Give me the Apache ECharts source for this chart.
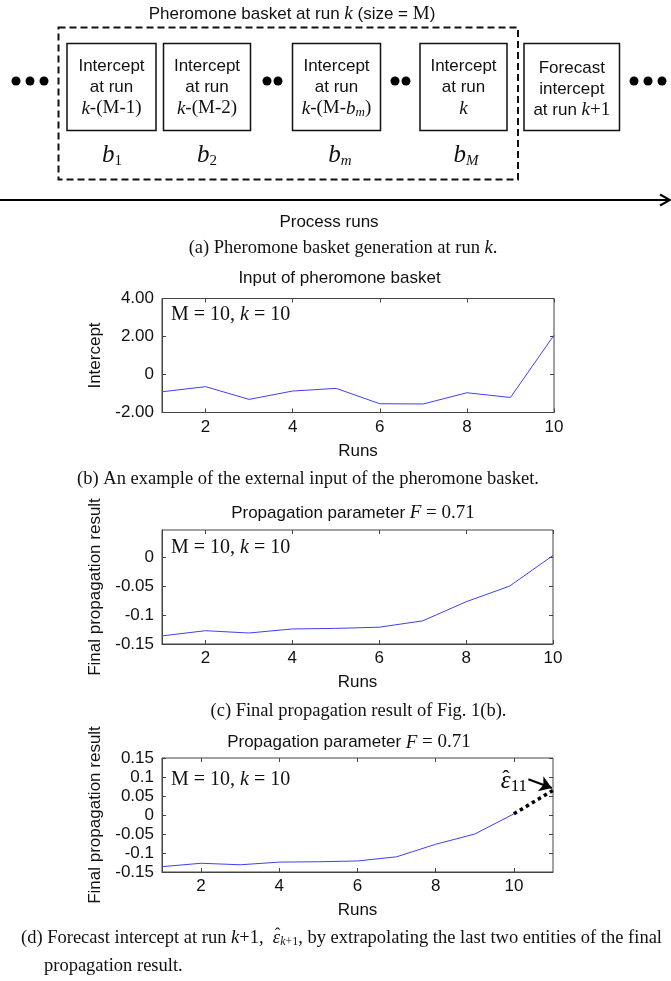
<!DOCTYPE html>
<html>
<head>
<meta charset="utf-8">
<script src="https://cdn.jsdelivr.net/npm/echarts@6/dist/echarts.min.js"></script>
<style>
  html, body { margin: 0; padding: 0; background: #fff; }
  #chart { width: 671px; height: 981px; }
</style>
</head>
<body>
<div id="chart"></div>
<script>
// data
const runs = [1, 2, 3, 4, 5, 6, 7, 8, 9, 10];
const interceptInput = [-0.91, -0.64, -1.31, -0.87, -0.73, -1.54, -1.55, -0.96, -1.21, 2.07];
const finalPropagation = [-0.136, -0.127, -0.131, -0.124, -0.123, -0.121, -0.110, -0.077, -0.050, 0.003];
const forecastRuns = [10, 11];
const forecastValues = [0.003, 0.065];

// ticks
const runTicks = [2, 4, 6, 8, 10];
const interceptTicks = [-2, 0, 2, 4];
const interceptLabels = ['-2.00', '0', '2.00', '4.00'];
const propTicksC = [-0.15, -0.1, -0.05, 0];
const propLabelsC = ['-0.15', '-0.1', '-0.05', '0'];
const propTicksD = [-0.15, -0.1, -0.05, 0, 0.05, 0.1, 0.15];
const propLabelsD = ['-0.15', '-0.1', '-0.05', '0', '0.05', '0.1', '0.15'];

const SANS = 'Liberation Sans, Arial, sans-serif';
const SERIF = 'Liberation Serif, Times New Roman, serif';
const BLUE = '#4040f0';
const AXIS = '#444';

const chart = echarts.init(document.getElementById('chart'), null, { renderer: 'canvas' });

const grids = [
  { left: 162, top: 298.5, width: 392, height: 114 },
  { left: 162, top: 530, width: 391, height: 114 },
  { left: 162, top: 758, width: 391, height: 114 }
].map(g => ({ ...g, show: true, borderColor: AXIS, borderWidth: 1 }));

function pickLabel(ticks, labels) {
  return v => {
    let best = 0;
    ticks.forEach((t, i) => { if (Math.abs(t - v) < Math.abs(ticks[best] - v)) best = i; });
    return labels[best];
  };
}

const xAxes = [];
const yAxes = [];
function addAxes(gi, xMax, yMin, yMax, yTicks, yLabels, yName) {
  const tick = { inside: true, length: 4, lineStyle: { color: AXIS } };
  xAxes.push({
    gridIndex: gi, type: 'value', min: 1, max: xMax,
    name: 'Runs', nameLocation: 'middle', nameGap: 30,
    nameTextStyle: { fontFamily: SANS, fontSize: 17, color: '#111' },
    axisLine: { show: true, onZero: false, lineStyle: { color: AXIS } },
    axisTick: { ...tick, customValues: runTicks },
    axisLabel: { customValues: runTicks, margin: 6, fontFamily: SANS, fontSize: 17, color: '#111' },
    splitLine: { show: false }
  });
  xAxes.push({
    gridIndex: gi, type: 'value', min: 1, max: xMax, position: 'top',
    axisLine: { show: false, onZero: false },
    axisTick: { ...tick, customValues: runTicks },
    axisLabel: { show: false }, splitLine: { show: false }
  });
  yAxes.push({
    gridIndex: gi, type: 'value', min: yMin, max: yMax,
    name: yName, nameLocation: 'middle', nameGap: 58,
    nameTextStyle: { fontFamily: SANS, fontSize: 17, color: '#111' },
    axisLine: { show: true, onZero: false, lineStyle: { color: AXIS } },
    axisTick: { ...tick, customValues: yTicks },
    axisLabel: { customValues: yTicks, margin: 8, fontFamily: SANS, fontSize: 17, color: '#111',
      formatter: pickLabel(yTicks, yLabels) },
    splitLine: { show: false }
  });
  yAxes.push({
    gridIndex: gi, type: 'value', min: yMin, max: yMax, position: 'right',
    axisLine: { show: false, onZero: false },
    axisTick: { ...tick, customValues: yTicks },
    axisLabel: { show: false }, splitLine: { show: false }
  });
}
addAxes(0, 10, -2, 4, interceptTicks, interceptLabels, 'Intercept');
addAxes(1, 10, -0.15, 0.047, propTicksC, propLabelsC, 'Final propagation result');
addAxes(2, 11, -0.15, 0.15, propTicksD, propLabelsD, 'Final propagation result');

const pair = (xs, ys) => xs.map((x, i) => [x, ys[i]]);

const series = [
  { type: 'line', xAxisIndex: 0, yAxisIndex: 0, data: pair(runs, interceptInput),
    showSymbol: false, lineStyle: { color: BLUE, width: 1 }, silent: true },
  { type: 'line', xAxisIndex: 2, yAxisIndex: 2, data: pair(runs, finalPropagation),
    showSymbol: false, lineStyle: { color: BLUE, width: 1 }, silent: true },
  { type: 'line', xAxisIndex: 4, yAxisIndex: 4, data: pair(runs, finalPropagation),
    showSymbol: false, lineStyle: { color: BLUE, width: 1 }, silent: true },
  { type: 'line', xAxisIndex: 4, yAxisIndex: 4, data: pair(forecastRuns, forecastValues),
    showSymbol: false, silent: true,
    lineStyle: { color: '#000', width: 3.5, type: [3.5, 3.5] },
    markLine: {
      silent: true, symbol: ['none', 'arrow'], symbolSize: 12,
      lineStyle: { color: '#000', width: 2.2, type: 'solid' },
      label: { show: false },
      data: [[{ coord: [10.37, 0.094] }, { coord: [10.97, 0.071] }]]
    },
    markPoint: {
      silent: true, symbol: 'circle', symbolSize: 0,
      label: {
        show: true, position: 'inside',
        rich: {
          e: { fontFamily: SERIF, fontStyle: 'italic', fontSize: 25, color: '#000' },
          s: { fontFamily: SERIF, fontSize: 17, color: '#000', padding: [10, 0, 0, 0] },
          h: { fontFamily: SERIF, fontSize: 22, color: '#000' }
        }
      },
      data: [
        { coord: [10.0, 0.089], label: { formatter: '{e|ε}{s|11}' } },
        { coord: [10.0, 0.089], label: { formatter: '{h|ˆ}', offset: [-8, -2] } }
      ]
    }
  }
];

// text helper for graphic elements
function T(x, y, text, rich, opts) {
  return {
    type: 'text', silent: true,
    style: Object.assign({
      x: x, y: y, text: text, rich: rich,
      align: 'center', verticalAlign: 'middle',
      textAlign: 'center', textVerticalAlign: 'middle',
      fill: '#111', font: '17px ' + SANS
    }, opts || {})
  };
}
const R = {
  s: { fontFamily: SANS, fontSize: 17, color: '#111' },
  t: { fontFamily: SERIF, fontSize: 19, color: '#111' },
  ti: { fontFamily: SERIF, fontSize: 19, fontStyle: 'italic', color: '#111' },
  c: { fontFamily: SERIF, fontSize: 18.5, color: '#111' },
  ci: { fontFamily: SERIF, fontSize: 18.5, fontStyle: 'italic', color: '#111' },
  cs: { fontFamily: SERIF, fontSize: 12, fontStyle: 'italic', color: '#111', padding: [8, 0, 0, 0] },
  cs2: { fontFamily: SERIF, fontSize: 12, color: '#111', padding: [8, 0, 0, 0] },
  m: { fontFamily: SERIF, fontSize: 20, color: '#111' },
  mi: { fontFamily: SERIF, fontSize: 20, fontStyle: 'italic', color: '#111' },
  b: { fontFamily: SERIF, fontSize: 25, fontStyle: 'italic', color: '#111' },
  bs: { fontFamily: SERIF, fontSize: 15, color: '#111', padding: [12, 0, 0, 0] },
  bsi: { fontFamily: SERIF, fontSize: 15, fontStyle: 'italic', color: '#111', padding: [12, 0, 0, 0] },
  sub: { fontFamily: SERIF, fontSize: 13, fontStyle: 'italic', color: '#111', padding: [9, 0, 0, 0] },
  hat: { fontFamily: SERIF, fontSize: 17, color: '#111' }
};

// schematic (a)
const boxes = [
  { x: 67, w: 89, third: '{ti|k}{t|-(M-1)}' },
  { x: 163.5, w: 87, third: '{ti|k}{t|-(M-2)}' },
  { x: 292.5, w: 88, third: '{ti|k}{t|-(M-}{ti|b}{sub|m}{t|)}' },
  { x: 420, w: 87, third: '{ti|k}' }
];
const boxTop = 43.5, boxH = 87;
const elems = [];
elems.push({ type: 'rect', silent: true, shape: { x: 58.5, y: 27.5, width: 459.5, height: 152 },
  style: { fill: 'none', stroke: '#111', lineWidth: 2, lineDash: [7, 4] } });
boxes.forEach(b => {
  elems.push({ type: 'rect', silent: true, shape: { x: b.x, y: boxTop, width: b.w, height: boxH },
    style: { fill: '#fff', stroke: '#111', lineWidth: 1.5 } });
  const cx = b.x + b.w / 2;
  elems.push(T(cx, 66.5, '{s|Intercept}', R));
  elems.push(T(cx, 87.5, '{s|at run}', R));
  elems.push(T(cx, 108.5, b.third, R));
});
elems.push({ type: 'rect', silent: true, shape: { x: 524, y: boxTop, width: 95.5, height: boxH },
  style: { fill: '#fff', stroke: '#111', lineWidth: 1.5 } });
elems.push(T(571.8, 68.5, '{s|Forecast}', R));
elems.push(T(571.8, 89.5, '{s|intercept}', R));
elems.push(T(571.8, 110, '{s|at run }{ti|k}{t|+1}', R));
// dots
[16, 30, 44, 267, 278, 395, 406, 634, 648, 662].forEach(x => {
  elems.push({ type: 'circle', silent: true, shape: { cx: x, cy: 81, r: 4.5 }, style: { fill: '#000' } });
});
// b labels
elems.push(T(112, 155, '{b|b}{bs|1}', R));
elems.push(T(207, 155, '{b|b}{bs|2}', R));
elems.push(T(340, 155, '{b|b}{bsi|m}', R));
elems.push(T(466, 155, '{b|b}{bsi|M}', R));
elems.push(T(292, 14, '{s|Pheromone basket at run }{ti|k}{s| (size = }{t|M}{s|)}', R));
// process arrow
elems.push({ type: 'line', silent: true, shape: { x1: 0, y1: 200, x2: 669, y2: 200 },
  style: { stroke: '#000', lineWidth: 2 } });
elems.push({ type: 'polyline', silent: true, shape: { points: [[660, 194.5], [670, 200], [660, 205.5]] },
  style: { stroke: '#000', lineWidth: 2, fill: 'none' } });
elems.push(T(329, 222, '{s|Process runs}', R));

// captions and panel titles
elems.push(T(343, 248, '{c|(a) Pheromone basket generation at run }{ci|k}{c|.}', R));
elems.push(T(339.5, 278.5, '{s|Input of pheromone basket}', R));
elems.push(T(308, 479, '{c|(b) An example of the external input of the pheromone basket.}', R));
elems.push(T(353, 513, '{s|Propagation parameter }{ti|F}{t| = 0.71}', R));
elems.push(T(358.5, 711.5, '{c|(c) Final propagation result of Fig. 1(b).}', R));
elems.push(T(349, 742.5, '{s|Propagation parameter }{ti|F}{t| = 0.71}', R));

// caption (d): measure where the epsilon lands so its hat can sit above it
const capX = 21, capY = 938;
const ctx = document.createElement('canvas').getContext('2d');
function w(str, style, size) {
  ctx.font = style + ' ' + size + 'px ' + SERIF;
  return ctx.measureText(str).width;
}
const epsX = capX + w('(d) Forecast intercept at run ', '', 18.5) + w('k', 'italic', 18.5) +
  w('+1,  ', '', 18.5) + w('ε', 'italic', 18.5) / 2 + 1;
elems.push(T(capX, capY, '{c|(d) Forecast intercept at run }{ci|k}{c|+1,  }{ci|ε}{cs|k}{cs2|+1}{c|, by extrapolating the last two entities of the final}', R,
  { align: 'left', textAlign: 'left' }));
elems.push(T(epsX, capY - 3, '{hat|ˆ}', R));
elems.push(T(44, 966.5, '{c|propagation result.}', R, { align: 'left', textAlign: 'left' }));

// in-plot labels
[315, 547.5, 780].forEach(y => {
  elems.push(T(171, y, '{m|M = 10, }{mi|k}{m| = 10}', R, { align: 'left', textAlign: 'left' }));
});

chart.setOption({
  animation: false,
  backgroundColor: '#fff',
  grid: grids,
  xAxis: xAxes,
  yAxis: yAxes,
  series: series,
  graphic: { elements: elems }
});
</script>
</body>
</html>
